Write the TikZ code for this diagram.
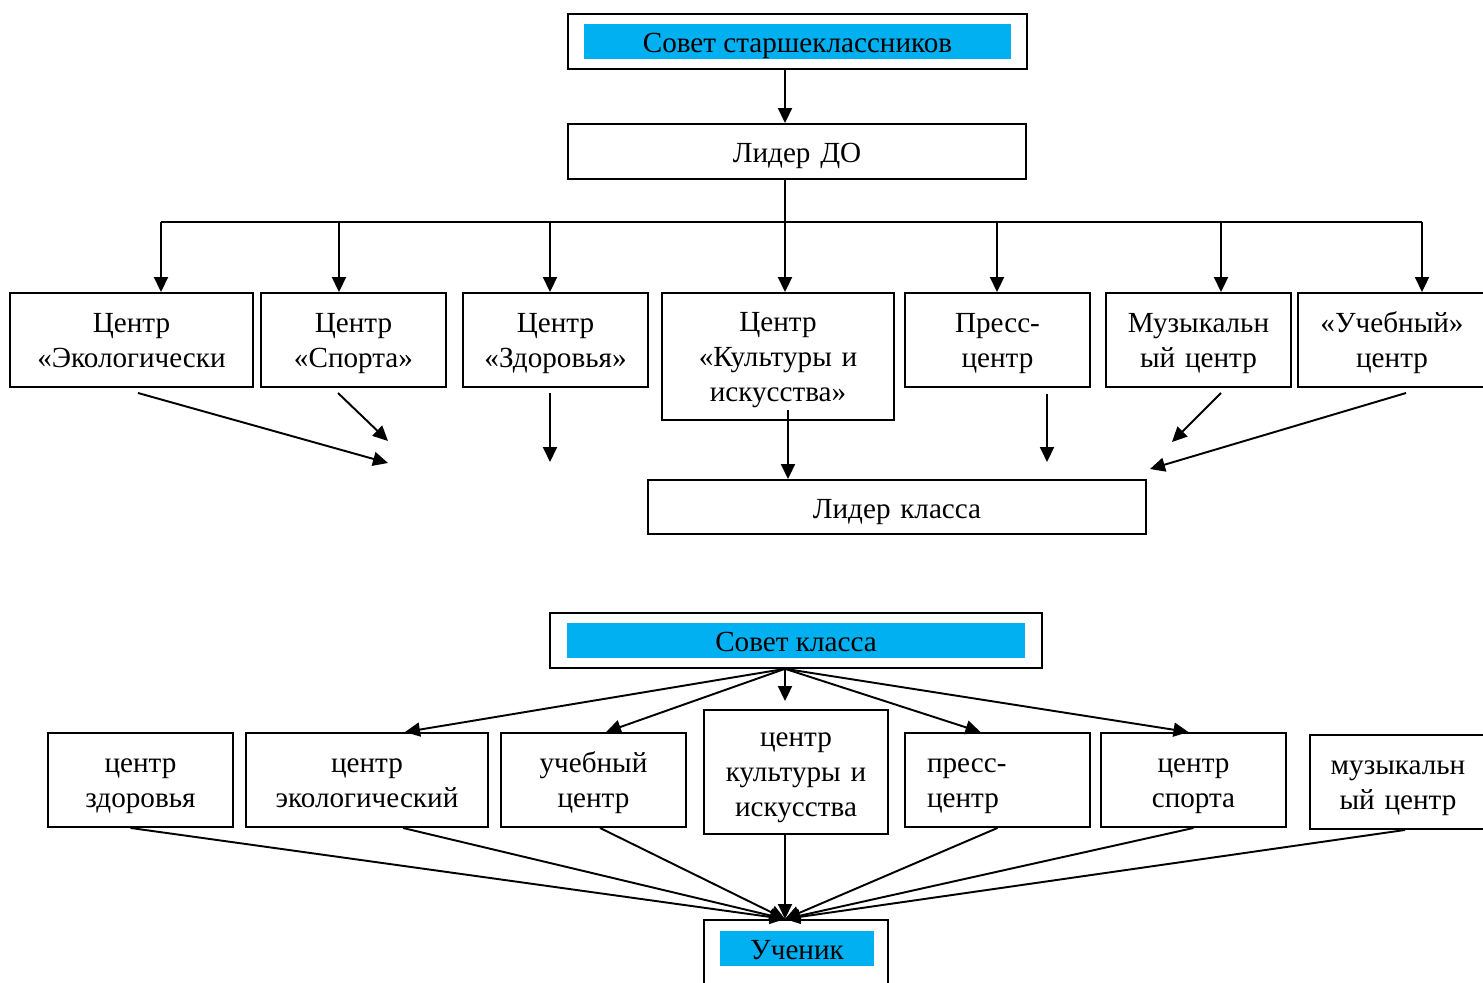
\documentclass[tikz,border=0pt]{standalone}
\usepackage{fontspec}
\setmainfont{Liberation Serif}
\usetikzlibrary{arrows.meta,fit}
\definecolor{sovetblue}{HTML}{00B0F0}
\tikzset{
    box/.style={draw, line width=1.1pt, minimum height=1.88cm, inner sep=0pt, align=center, text width=3.3cm,
        font=\fontsize{16.6}{19.9}\selectfont, execute at begin node={\rule{0pt}{14.6pt}}},
    deep/.style={execute at end node={\rule[-3.6pt]{0pt}{3.6pt}}},
    bluebox/.style={fill=sovetblue, minimum height=0.7cm, inner sep=0pt,
        font=\fontsize{16.6}{19.9}\selectfont},
    oneline/.style={text height=15.3pt, text depth=2.7pt},
    outerbox/.style={draw, line width=1.1pt, inner sep=0pt},
    link/.style={line width=1.1pt, -{Triangle[length=0.3cm,width=0.28cm]}},
}
\begin{document}
\begin{tikzpicture}[x=0.02cm, y=-0.02cm]
    \useasboundingbox (0,0) rectangle (1483,983);

    % upper part
    \node[bluebox, oneline, minimum width=8.54cm] (sovet) at (797.5,41.5) {Совет старшеклассников};
    \node[outerbox, fit=(sovet), inner xsep=0.31cm, inner ysep=0.2cm] (sovetframe) {};
    \node[box, oneline, text width=8cm, minimum width=9.16cm, minimum height=1.1cm] (leaderdo) at (797,151.5) {Лидер ДО};

    \node[box, deep, text width=4cm, minimum width=4.86cm] (ceco) at (131.5,340) {Центр\\«Экологически};
    \node[box, minimum width=3.7cm] (csport) at (353.5,340) {Центр\\«Спорта»};
    \node[box, minimum width=3.7cm] (czdor) at (555.5,340) {Центр\\«Здоровья»};
    \node[box, minimum width=4.64cm, minimum height=2.54cm] (ckult) at (778,356.5) {Центр\\«Культуры и\\искусства»};
    \node[box, minimum width=3.7cm] (cpress) at (997.5,340) {Пресс-\\центр};
    \node[box, minimum width=3.7cm] (cmus) at (1198.5,340) {Музыкальн\\ый центр};
    \node[box, minimum width=3.76cm] (cucheb) at (1392,340) {«Учебный»\\центр};

    \node[box, oneline, text width=8cm, minimum width=9.96cm, minimum height=1.08cm] (lklass) at (897,507) {Лидер класса};

    \coordinate (bus) at (785,222);
    \draw[link] (sovetframe.south -| bus) -- (leaderdo.north -| bus);
    \draw[line width=1.1pt] (leaderdo.south -| bus) -- (bus);
    \foreach \x [count=\i] in {161,339,550,785,997,1221,1422}
        \coordinate (b\i) at (\x,222);
    \draw[line width=1.1pt] (b1) -- (b7);
    \foreach \n [count=\i] in {ceco,csport,czdor,ckult,cpress,cmus,cucheb}
        \draw[link] (b\i) -- (b\i |- \n.north);

    \foreach \sx/\sy/\ex/\ey [count=\i] in {138/393/388/463, 338/393/388/441, 550/393/550/462,
            1047/394/1047/462, 1221/393/1172/442, 1406/393/1150/469} {
        \coordinate (s\i) at (\sx,\sy);
        \coordinate (e\i) at (\ex,\ey);
        \draw[link] (s\i) -- (e\i);
    }
    \coordinate (kultout) at (788,410);
    \draw[link] (kultout) -- (kultout |- lklass.north);

    % lower part
    \node[bluebox, oneline, minimum width=9.16cm] (sovetk) at (796,640.5) {Совет класса};
    \node[outerbox, fit=(sovetk), inner xsep=0.33cm, inner ysep=0.19cm] (sovetkframe) {};

    \node[box, minimum width=3.7cm] (zdor2) at (140.5,780) {центр\\здоровья};
    \node[box, deep, text width=4cm, minimum width=4.84cm] (eko2) at (367,780) {центр\\экологический};
    \node[box, minimum width=3.7cm] (ucheb2) at (593.5,780) {учебный\\центр};
    \node[box, minimum width=3.68cm, minimum height=2.48cm] (kult2) at (796,772) {центр\\культуры и\\искусства};
    \node[box, minimum width=3.7cm, text width=2.82cm, align=left] (press2) at (997.5,780) {пресс-\\центр};
    \node[box, minimum width=3.7cm] (sport2) at (1193.5,780) {центр\\спорта};
    \node[box, minimum width=3.52cm] (mus2) at (1398,782) {музыкальн\\ый центр};

    \node[outerbox, minimum width=3.68cm, minimum height=1.6cm, anchor=north] (uchframe) at (796,919) {};
    \node[bluebox, oneline, minimum width=3.08cm] (uchenik) at (797,948.5) {Ученик};

    \coordinate (fan) at (sovetkframe.south -| bus);
    \draw[link] (fan) -- ([xshift=0.76cm]eko2.north);
    \draw[link] (fan) -- ([xshift=0.25cm]ucheb2.north);
    \draw[link] (fan) -- ([yshift=0.16cm]kult2.north -| bus);
    \draw[link] (fan) -- ([xshift=-0.34cm]press2.north);
    \draw[link] (fan) -- ([xshift=-0.1cm]sport2.north);

    \coordinate (meet) at (uchframe.north -| bus);
    \draw[link] ([xshift=-0.2cm]zdor2.south) -- (meet);
    \draw[link] ([xshift=0.72cm]eko2.south) -- (meet);
    \draw[link] ([xshift=0.13cm]ucheb2.south) -- (meet);
    \draw[link] (kult2.south -| meet) -- (meet);
    \draw[link] (press2.south) -- (meet);
    \draw[link] (sport2.south) -- (meet);
    \draw[link] ([xshift=0.14cm]mus2.south) -- (meet);
\end{tikzpicture}
\end{document}
